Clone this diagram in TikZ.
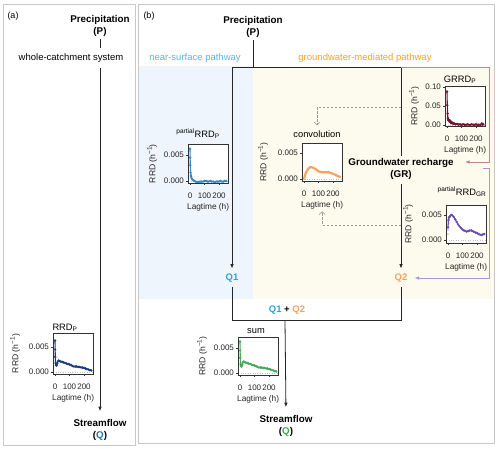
\documentclass[tikz,border=0pt]{standalone}
\usepackage{fontspec}
\setmainfont{Liberation Sans}
\usetikzlibrary{arrows.meta}
\definecolor{framec}{HTML}{C8C8C8}
\definecolor{bgblue}{HTML}{EFF5FC}
\definecolor{bgyellow}{HTML}{FDFAEE}
\definecolor{cnear}{HTML}{5AB4E5}
\definecolor{cgw}{HTML}{F5A21E}
\definecolor{cqone}{HTML}{29A3DC}
\definecolor{cqtwo}{HTML}{F7A060}
\definecolor{cqa}{HTML}{2A6FA8}
\definecolor{cqb}{HTML}{3AAA50}
\definecolor{cnavy}{HTML}{1B3C7C}
\definecolor{cblue}{HTML}{3A84C4}
\definecolor{corange}{HTML}{F9A25E}
\definecolor{cmaroon}{HTML}{7A1131}
\definecolor{cpurple}{HTML}{6A4DB3}
\definecolor{cgreen}{HTML}{44AA55}
\definecolor{crose}{HTML}{B98A94}
\definecolor{clav}{HTML}{A898D8}
\tikzset{
 ticklab/.style={font=\fontsize{8}{9}\selectfont, inner sep=0.5pt, text=black!85},
 axlab/.style={font=\fontsize{8.3}{9.5}\selectfont, inner sep=0.5pt, text=black!85},
 ptitle/.style={font=\fontsize{9.3}{10}\selectfont, inner sep=1pt},
 axbox/.style={draw=black!80, line width=0.6pt},
 zeroline/.style={draw=black!25, dotted, line width=0.4pt},
 boldlab/.style={font=\fontsize{9.8}{12}\selectfont\bfseries, align=center, inner sep=2pt},
 plainlab/.style={font=\fontsize{9.5}{11}\selectfont},
 conn/.style={draw=black!85, line width=0.8pt},
 tip/.style={-{Latex[length=4.5pt,width=3.6pt]}},
 dconn/.style={draw=black!40, line width=0.6pt, dash pattern=on 2.5pt off 1.5pt, -{Straight Barb[length=3pt,width=6pt]}},
 series/.style={line width=1.1pt, mark=*, mark size=0.55pt},
}
\newcommand{\rrdunit}{RRD (h\raisebox{0.42em}{\fontsize{6.5}{7}\selectfont −1})}
% #1 name, #2 ox, #3 oy, #4 sy, #5 ymin, #6 ymax, #7 ylabel offset, #8 yticks, #9 data
\newcommand{\rrdplot}[9]{%
 \begin{scope}[xshift=#2pt, yshift=-#3pt, x=0.145pt, y=#4pt]
  \fill[white] (-13,#5) rectangle (263,#6);
  \draw[zeroline] (-13,0) -- (263,0);
  #9
  \draw[axbox] (-13,#5) rectangle (263,#6);
  \foreach \xx in {0,100,200} {
    \draw[axbox] (\xx,#5) -- ++(0pt,-2pt);
    \node[ticklab] at ([yshift=-12.5pt]\xx,#5) {\xx};
  }
  \foreach \val/\lab in {#8} {
    \draw[axbox] (-13,\val) -- ++(-2pt,0pt);
    \node[ticklab, anchor=east] at ([xshift=-3.5pt]-13,\val) {\lab};
  }
  \node[axlab] (#1-lag) at ([yshift=-24.5pt]125,#5) {Lagtime (h)};
  \node[axlab, font=\fontsize{8.6}{9.5}\selectfont, rotate=90] (#1-ylab) at ([xshift=-#7pt]-13,{(#5+#6)/2}) {\rrdunit};
 \end{scope}%
}
\begin{document}
\begin{tikzpicture}[x=1pt,y=-1pt]
\useasboundingbox (0,0) rectangle (500,448);
% backgrounds and frames
\fill[bgblue] (138,66) rectangle (253,299);
\fill[bgyellow] (253,66) rectangle (494,299);
\draw[framec, line width=0.8pt] (3,4) rectangle (135,445);
\draw[framec, line width=0.8pt] (138,4) rectangle (494,443);
\node[plainlab, font=\fontsize{9}{10}\selectfont] (la) at (13,16) {(a)};
\node[plainlab, font=\fontsize{9}{10}\selectfont] (lb) at (149,16) {(b)};

% ---------- panel (a)
\node[boldlab] (Pa) at (100,26) {Precipitation\\(P)};
\node[boldlab] (Qa) at (100,430) {Streamflow\\(\textcolor{cqa}{Q})};
\draw[conn, tip, shorten >=6pt] (Pa.south) -- (Qa.north);
\node[plainlab, fill=white, inner xsep=1pt, inner ysep=5.5pt] (wcs) at (71,58) {whole-catchment system};

\rrdplot{pa}{55}{372}{5000}{-0.0004}{0.0078}{38}{0/0.000,0.005/0.005}{%
 \draw[cnavy, series] plot coordinates {(0,0.0063) (1,0.0045) (2,0.0030) (4,0.0018) (6,0.0014) (10,0.0013) (15,0.0017) (20,0.0021) (25,0.0023) (30,0.0022) (40,0.0021) (50,0.0020) (60,0.0019) (70,0.0018) (80,0.0017) (90,0.0016) (100,0.0015) (110,0.0014) (120,0.0012) (130,0.0011) (140,0.0011) (150,0.0011) (160,0.0010) (170,0.0010) (180,0.0009) (190,0.0009) (200,0.0008) (210,0.0007) (220,0.0006) (230,0.0005) (240,0.0004) (250,0.0003)};}
\node[ptitle] (pat) at (65,328) {RRD\textsubscript{P}};

% ---------- panel (b) labels
\node[plainlab, text=cnear] (nsp) at (195,58) {near-surface pathway};
\node[plainlab, text=cgw] (gwp) at (365,58) {groundwater-mediated pathway};
\node[boldlab] (Pb) at (253,27) {Precipitation\\(P)};
\node[boldlab] (GR) at (401,169) {Groundwater recharge\\(GR)};
\node[boldlab, font=\fontsize{9.5}{11}\selectfont\bfseries, text=cqone] (Q1) at (232,278) {Q1};
\node[boldlab, font=\fontsize{9.5}{11}\selectfont\bfseries, text=cqtwo] (Q2) at (401,278) {Q2};
\node[boldlab, font=\fontsize{9.5}{11}\selectfont\bfseries] (Qsum) at (287,310) {\textcolor{cqone}{Q1} + \textcolor{cqtwo}{Q2}};
\node[boldlab] (Qb) at (286,426) {Streamflow\\(\textcolor{cqb}{Q})};

\coordinate (jP) at (253,67);
\coordinate (jL) at (232,67);
\coordinate (jR) at (401,67);
\coordinate (jRose) at (489,67);
\coordinate (gArrow) at (465,162);
\coordinate (pStart) at (483,168);
\coordinate (pCorner) at (489,168);
\coordinate (jB) at (285,320);
\coordinate (dA) at (401,107);
\coordinate (dB) at (401,225);

% ---------- plots panel (b)
\rrdplot{pb}{190}{181}{5200}{-0.0004}{0.0071}{36}{0/0.000,0.005/0.005}{%
 \draw[cblue, series] plot coordinates {(0,0.0062) (1,0.0045) (2,0.003) (4,0.0016) (6,0.0011) (8,0.0008) (12,0.0005) (16,0.0003) (20,0.0002) (30,0.0000) (40,-0.0001) (50,-0.0002) (60,-0.0002) (70,-0.0001) (80,-0.0001) (90,-0.0001) (100,0.0000) (110,0.0000) (120,-0.0001) (130,-0.0001) (140,0.0000) (150,-0.0001) (160,-0.0001) (170,-0.0002) (180,-0.0001) (190,-0.0001) (200,-0.0001) (210,0.0000) (220,-0.0001) (230,-0.0001) (240,0.0000) (250,0.0000)};}
\node[ptitle] (pbt) at (198,134) {\textsuperscript{partial}RRD\textsubscript{P}};

\rrdplot{conv}{304}{179}{5200}{-0.0004}{0.0069}{39}{0/0.000,0.005/0.005}{%
 \draw[corange, line width=2.2pt, line cap=round, smooth] plot coordinates {(0,0.0000) (5,0.0005) (10,0.0010) (20,0.0016) (30,0.0020) (45,0.0023) (60,0.0022) (80,0.0019) (100,0.0015) (120,0.0013) (150,0.0013) (170,0.0013) (190,0.0011) (210,0.0009) (230,0.0006) (250,0.0004)};}
\node[ptitle] (convt) at (317,134) {convolution};

\rrdplot{gr}{447}{125}{380}{-0.003}{0.102}{31}{0/0.00,0.05/0.05,0.1/0.10}{%
 \draw[cmaroon, series] plot coordinates {(0,0.088) (2,0.052) (4,0.03) (6,0.018) (8,0.014) (10,0.012) (14,0.013) (18,0.009) (22,0.011) (26,0.006) (30,0.008) (35,0.004) (40,0.006) (45,0.003) (50,0.004) (60,0.002) (70,0.003) (80,0.001) (90,0.002) (100,0.000) (110,0.002) (120,0.001) (130,0.000) (140,0.002) (150,0.001) (160,0.000) (170,0.002) (180,0.001) (190,0.000) (200,0.002) (210,0.000) (220,0.001) (230,0.000) (240,0.004) (245,0.001) (250,0.002)};}
\node[ptitle] (grt) at (460,80) {GRRD\textsubscript{P}};

\rrdplot{pgr}{448}{240}{5000}{-0.0006}{0.0070}{38}{0/0.000,0.005/0.005}{%
 \fill[cpurple] (0,0.0012) circle[radius=0.7pt] (0,0.0020) circle[radius=0.7pt] (0,0.0030) circle[radius=0.7pt] (0,0.0038) circle[radius=0.7pt];
 \draw[cpurple, series] plot coordinates {(0,0.0025) (3,0.0040) (6,0.0045) (10,0.0046) (15,0.0048) (20,0.0050) (25,0.0050) (30,0.0049) (40,0.0046) (50,0.0041) (60,0.0036) (70,0.0031) (80,0.0027) (90,0.0024) (100,0.0021) (110,0.0019) (120,0.0018) (130,0.0017) (140,0.0018) (150,0.0019) (160,0.0019) (170,0.0018) (180,0.0016) (190,0.0015) (200,0.0014) (210,0.0012) (220,0.0011) (230,0.0010) (240,0.0011) (250,0.0012)};}
\node[ptitle] (pgrt) at (462,192) {\textsuperscript{partial}RRD\textsubscript{GR}};

\rrdplot{sum}{240}{373}{5000}{-0.0004}{0.0072}{36}{0/0.000,0.005/0.005}{%
 \draw[cgreen, series] plot coordinates {(0,0.0063) (1,0.0045) (2,0.0030) (4,0.0018) (6,0.0014) (10,0.0013) (15,0.0017) (20,0.0021) (25,0.0023) (30,0.0022) (40,0.0021) (50,0.0020) (60,0.0019) (70,0.0018) (80,0.0017) (90,0.0016) (100,0.0015) (110,0.0014) (120,0.0012) (130,0.0011) (140,0.0011) (150,0.0011) (160,0.0010) (170,0.0010) (180,0.0009) (190,0.0009) (200,0.0008) (210,0.0007) (220,0.0006) (230,0.0005) (240,0.0004) (250,0.0003)};}
\node[ptitle] (sumt) at (256,331) {sum};

% ---------- connectors panel (b)
\draw[conn] (Pb.south) -- (jP);
\draw[conn] (jL) -- (jR);
\draw[conn, tip, shorten >=3pt] (jL) -- (Q1.north);
\draw[conn] (jR) -- (GR.north);
\draw[conn, tip, shorten <=2pt, shorten >=3pt] (GR.south) -- (Q2.north);
\draw[conn, shorten <=3pt] (Q1.south) |- (jB);
\draw[conn, shorten <=3pt] (Q2.south) |- (jB);
\draw[conn, tip, shorten >=6pt] (jB) -- (Qb.north);
\draw[crose, line width=0.8pt, -{Latex[length=4.5pt,width=3.6pt]}] (jR) -- (jRose) |- (gArrow);
\draw[clav, line width=0.8pt, -{Latex[length=4.5pt,width=3.6pt]}, shorten >=5pt] (pStart) -- (pCorner) |- (Q2.east);
\draw[dconn, shorten >=4pt] (dA) -| (convt.north);
\draw[dconn, shorten >=1pt] (dB) -| (conv-lag.south);
\end{tikzpicture}
\end{document}
